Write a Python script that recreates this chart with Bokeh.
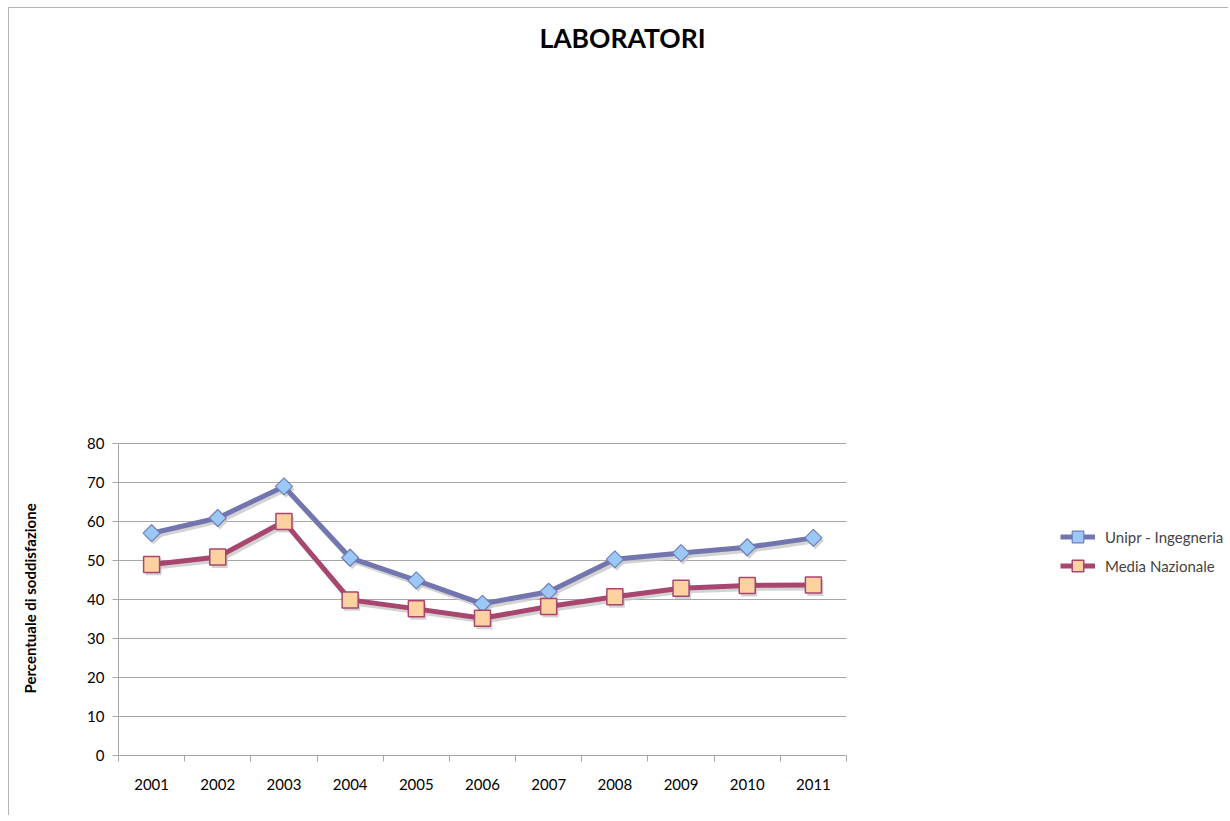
import numpy as np
from bokeh.plotting import figure
from bokeh.models import (FixedTicker, Legend, LegendItem, Range1d, Label, Title)
from bokeh.embed import file_html
from bokeh.resources import INLINE

years = [2001, 2002, 2003, 2004, 2005, 2006, 2007, 2008, 2009, 2010, 2011]
unipr = [57.0, 60.9, 69.0, 50.7, 44.9, 38.9, 42.0, 50.3, 51.9, 53.4, 55.8]
media = [49.0, 50.9, 60.0, 39.9, 37.6, 35.2, 38.2, 40.7, 42.9, 43.6, 43.7]
y_ticks = [0, 10, 20, 30, 40, 50, 60, 70, 80]
title_text = "LABORATORI"
y_title = "Percentuale di soddisfazione"
names = ["Unipr - Ingegneria", "Media Nazionale"]

FONT = "Lato"
# layout (pixels)
ML = 109            # left border inside figure
FW, FH = 1110, 747  # whole drawing frame
PLOT_W, PLOT_H = 728, 312  # visible axis box
MB = 60

x0 = years[0] - 0.5
x_span = len(years) * FW / PLOT_W
y_span = (y_ticks[-1] - y_ticks[0]) * FH / PLOT_H

p = figure(frame_width=FW, frame_height=FH, title=None,
           output_backend="svg", toolbar_location=None,
           x_range=Range1d(x0, x0 + x_span),
           y_range=Range1d(y_ticks[0], y_ticks[0] + y_span),
           min_border_left=ML, min_border_top=0,
           min_border_right=0, min_border_bottom=MB)
p.styles = {"border-left": "1px solid #b4b4b4", "border-top": "1px solid #b4b4b4",
            "margin-left": "8px", "margin-top": "7px"}
p.outline_line_color = None
p.background_fill_color = "white"
p.border_fill_color = "white"
p.xgrid.grid_line_color = None
p.ygrid.grid_line_color = None

# axes
xt = FixedTicker(ticks=years, minor_ticks=[y - 0.5 for y in years] + [years[-1] + 0.5])
p.xaxis.ticker = xt
p.xaxis.bounds = (years[0] - 0.5, years[-1] + 0.5)
p.xaxis.major_tick_out = 0
p.xaxis.major_tick_in = 0
p.xaxis.minor_tick_out = 6
p.xaxis.minor_tick_in = 0
p.xaxis.minor_tick_line_color = "#a6a6a6"
p.xaxis.axis_line_color = "#a6a6a6"
p.xaxis.major_label_standoff = 17
p.xaxis.major_label_text_font = FONT
p.xaxis.major_label_text_font_size = "15px"
p.xaxis.major_label_text_color = "#000000"

p.yaxis.ticker = FixedTicker(ticks=y_ticks)
p.yaxis.bounds = (y_ticks[0], y_ticks[-1])
p.yaxis.major_tick_out = 6
p.yaxis.major_tick_in = 0
p.yaxis.minor_tick_line_color = None
p.yaxis.major_tick_line_color = "#a6a6a6"
p.yaxis.axis_line_color = "#a6a6a6"
p.yaxis.major_label_standoff = 8
p.yaxis.major_label_text_font = FONT
p.yaxis.major_label_text_font_size = "15px"
p.yaxis.major_label_text_color = "#000000"
# blank spacer label widens the axis panel so the title sits further left
p.yaxis.axis_label = " "
p.yaxis.axis_label_text_font_size = "1px"
p.yaxis.axis_label_standoff = 32

# y-axis title, placed beside the visible axis box
yt = Title(text=y_title, align="left", offset=62, standoff=18,
           text_font=FONT, text_font_style="bold", text_font_size="15px",
           text_color="#000000")
p.add_layout(yt, "left")

# horizontal gridlines limited to the axis box
gy = np.array(y_ticks[1:], dtype=float)
p.segment(x0=[years[0] - 0.5] * len(gy), y0=gy, x1=[years[-1] + 0.5] * len(gy), y1=gy,
          line_color="#a6a6a6", line_width=1)

x = np.array(years, dtype=float)
u = np.array(unipr)
m = np.array(media)

# shadows
dx, dy = 0.03, -0.75
p.line(x + dx, u + dy, line_color="#c8c8c8", line_width=5, line_alpha=0.8)
p.line(x + dx, m + dy, line_color="#c8c8c8", line_width=5, line_alpha=0.8)
p.scatter(x + dx, u + dy, marker="square", angle=np.pi / 4, size=12,
          fill_color="#c8c8c8", line_color=None, alpha=0.8)
p.scatter(x + dx, m + dy, marker="square", size=16,
          fill_color="#c8c8c8", line_color=None, alpha=0.8)

UC, UF = "#7376ae", "#9cc8f7"
MC, MF = "#a8466f", "#fdd2a0"
l1 = p.line(x, u, line_color=UC, line_width=5)
s1 = p.scatter(x, u, marker="square", angle=np.pi / 4, size=12,
               fill_color=UF, line_color="#6d7fb8", line_width=1.2)
l2 = p.line(x, m, line_color=MC, line_width=5)
s2 = p.scatter(x, m, marker="square", size=16,
               fill_color=MF, line_color=MC, line_width=1.5)

legend = Legend(items=[LegendItem(label=names[0], renderers=[l1, s1]),
                       LegendItem(label=names[1], renderers=[l2, s2])],
                location=(942, 175))
legend.border_line_color = None
legend.background_fill_alpha = 0
legend.margin = 0
legend.padding = 0
legend.spacing = 0
legend.glyph_width = 35
legend.glyph_height = 29
legend.label_height = 29
legend.label_standoff = 10
legend.label_text_font = FONT
legend.label_text_font_size = "15px"
p.add_layout(legend, "center")

title = Label(x=504, y=718, x_units="screen", y_units="screen", text=title_text,
              text_font=FONT, text_font_style="bold", text_font_size="26.5px",
              text_align="center", text_baseline="middle", text_color="#000000")
p.add_layout(title)

open("out.html", "w").write(file_html(p, INLINE))
